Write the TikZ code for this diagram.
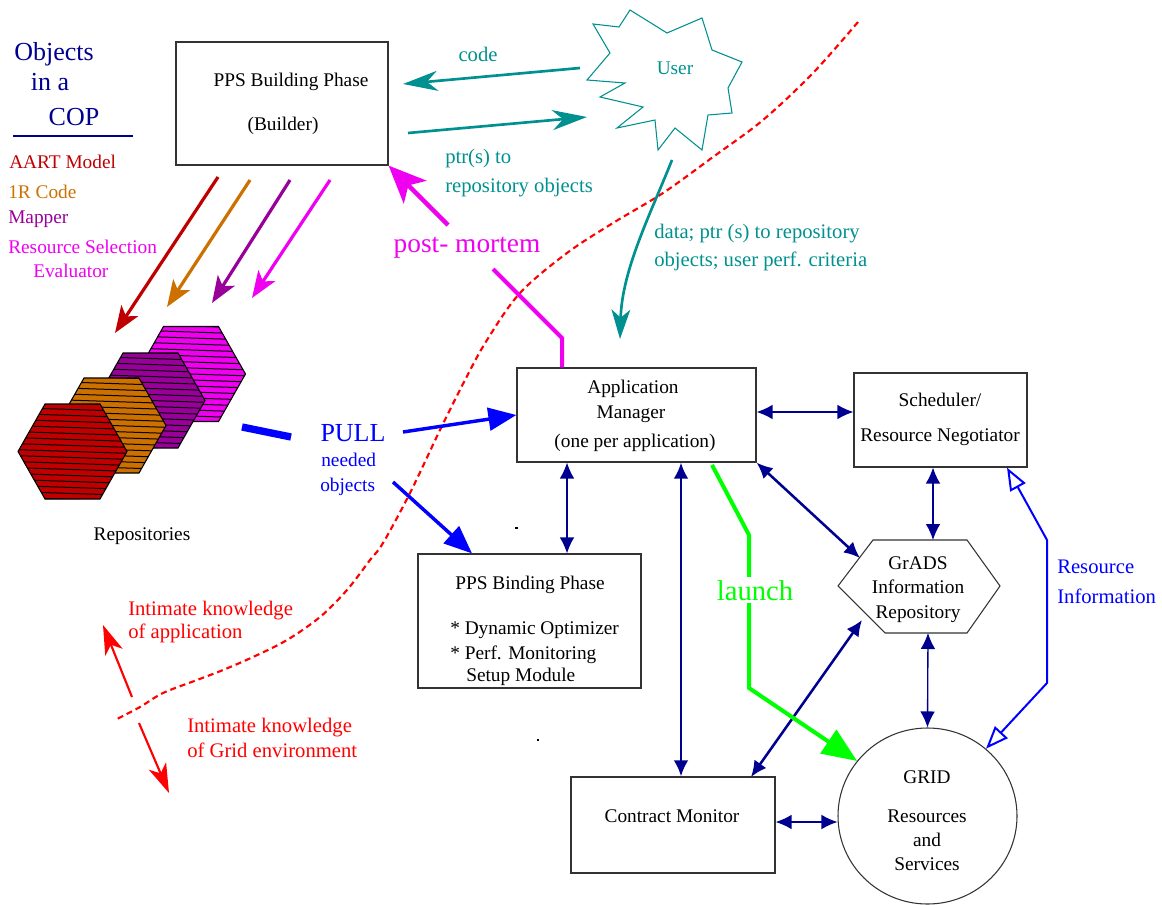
\documentclass[tikz,border=0pt]{standalone}
\usepackage{fontspec}
\setmainfont{Liberation Serif}
\usetikzlibrary{arrows.meta,shapes.geometric,fit}
\definecolor{navy}{HTML}{000090}
\definecolor{tealc}{HTML}{009090}
\definecolor{dred}{HTML}{C00000}
\definecolor{orng}{HTML}{CC7000}
\definecolor{purp}{HTML}{990099}
\definecolor{mag}{HTML}{F000F0}
\definecolor{blu}{HTML}{0000FF}
\definecolor{grn}{HTML}{00FF00}
\definecolor{rd}{HTML}{FF0000}
\newcommand\myfs[1]{\fontsize{#1}{#1}\selectfont}
\newcommand\repohex[3]{%
 \begin{scope}
  \clip ({#1-54.5},#2) -- ({#1-27.5},{#2-47.5}) -- ({#1+27.5},{#2-47.5}) -- ({#1+54.5},#2) -- ({#1+27.5},{#2+47.5}) -- ({#1-27.5},{#2+47.5}) -- cycle;
  \fill[#3] ({#1-60},{#2-50}) rectangle ({#1+60},{#2+50});
  \foreach \k in {-9,...,9} \draw[black,line width=0.75pt] ({#1-60},{#2+\k*6-2}) -- ({#1+60},{#2+\k*6+2});
 \end{scope}
 \draw[black,line width=0.8pt] ({#1-54.5},#2) -- ({#1-27.5},{#2-47.5}) -- ({#1+27.5},{#2-47.5}) -- ({#1+54.5},#2) -- ({#1+27.5},{#2+47.5}) -- ({#1-27.5},{#2+47.5}) -- cycle;
}
\begin{document}
\begin{tikzpicture}[x=0.75pt,y=-0.75pt,
  box/.style={draw=black!80,line width=0.9pt,inner sep=0pt},
  lbl/.style={inner sep=0pt,anchor=base},
  lbll/.style={inner sep=0pt,anchor=base west},
  boxtxt/.style={lbl,font=\myfs{14.5}},
  navyarr/.style={draw=navy,line width=1pt,{Latex[length=12pt,width=11pt]}-{Latex[length=12pt,width=11pt]}},
  navythick/.style={navyarr,line width=1.9pt},
  tealarr/.style={draw=tealc,line width=2pt,-{Stealth[length=26pt,width=15pt,inset=8pt]}},
  colarr/.style={draw=#1,line width=2.4pt,-{Stealth[length=20pt,width=15pt,inset=5pt]}},
  bluearr/.style={draw=blu,line width=2.6pt,-{Triangle[length=21pt,width=17pt]}},
  redarr/.style={draw=rd,line width=1.6pt,-{Stealth[length=22pt,width=14pt,inset=6pt]}},
]
\useasboundingbox (0,0) rectangle (1162,905);

% ---------- left legend ----------
\node[lbl,font=\myfs{19.5},text=navy] (tobj) at (54,61) {Objects};
\node[lbl,font=\myfs{19.5},text=navy] (tina) at (50,91) {in a};
\node[lbl,font=\myfs{19.5},text=navy] (tcop) at (74,126) {COP};
\draw[navy,line width=1.1pt] (13,136) -- (133,136);
\node[lbll,font=\myfs{14.5},text=dred] (taart) at (9,169) {AART Model};
\node[lbll,font=\myfs{14.5},text=orng] (tir) at (8,199) {1R Code};
\node[lbll,font=\myfs{14.5},text=purp] (tmap) at (8,224) {Mapper};
\node[lbll,font=\myfs{14.5},text=mag] (trs) at (8,254) {Resource Selection};
\node[lbll,font=\myfs{14.5},text=mag] (tev) at (33,278) {Evaluator};

% ---------- red dashed boundary ----------
\draw[rd,line width=1.6pt,dash pattern=on 4.5pt off 3pt] plot[smooth,tension=0.55] coordinates {
 (858,22) (813,73) (763,120) (713,157) (663,193) (613,223) (567,253) (520,293) (487,340)
 (465,380) (440,430) (410,493) (383,543) (370,560) (347,590) (320,617) (287,640) (253,657)
 (223,670) (197,680) (163,693) (140,707) (117,719)};

% ---------- boxes ----------
\node[box,fit={(176,42)(388,165)}] (builder) {};
\node[boxtxt] (tb1) at (291,87) {PPS Building Phase};
\node[boxtxt] (tb2) at (283,131) {(Builder)};

\node[box,fit={(517,368)(756,462)}] (am) {};
\node[boxtxt] (ta1) at (633,393) {Application};
\node[boxtxt] (ta2) at (631,418) {Manager};
\node[boxtxt] (ta3) at (635,447) {(one per application)};

\node[box,fit={(854,373)(1027,467)}] (sched) {};
\node[boxtxt] (ts1) at (940,406) {Scheduler/};
\node[boxtxt] (ts2) at (940,441) {Resource Negotiator};

\node[box,fit={(418,554)(641,688)}] (bind) {};
\node[boxtxt] (tbd1) at (530,589) {PPS Binding Phase};
\node[lbll,font=\myfs{14.5}] (tbd2) at (450,634) {* Dynamic Optimizer};
\node[lbll,font=\myfs{14.5}] (tbd3) at (450,659) {* Perf. Monitoring};
\node[lbll,font=\myfs{14.5}] (tbd4) at (466,681) {Setup Module};

\node[box,fit={(571,777)(775,873)}] (contract) {};
\node[boxtxt] (tc) at (672,822) {Contract Monitor};

% GrADS hexagon
\draw[black!80,line width=0.8pt] (873,540) -- (967,540) -- (1000,586) -- (967,633) -- (885,633) -- (838,586) -- cycle;
\node[inner sep=0pt,fit={(838,540)(1000,633)}] (grads) {};
\node[boxtxt] (tg1) at (918,569) {GrADS};
\node[boxtxt] (tg2) at (918,593) {Information};
\node[boxtxt] (tg3) at (918,618) {Repository};

% GRID ellipse
\node[draw=black!80,line width=0.8pt,ellipse,inner sep=0pt,minimum width=134.25pt,minimum height=132pt] (grid) at (927.5,816) {};
\node[boxtxt] (tgr1) at (927,783) {GRID};
\node[boxtxt] (tgr2) at (927,822) {Resources};
\node[boxtxt] (tgr3) at (927,846) {and};
\node[boxtxt] (tgr4) at (927,870) {Services};

% User star
\draw[tealc,line width=0.8pt] (593,24) -- (619,27) -- (630,10) -- (667,33) -- (702,18) -- (712,50) -- (742,62) -- (728,88) -- (732,113) -- (708,115) -- (702,150) -- (675,128) -- (658,150) -- (655,120) -- (617,128) -- (643,107) -- (600,97) -- (625,83) -- (587,80) -- (610,53) -- cycle;
\node[lbl,font=\myfs{14.5},text=tealc] (user) at (675,75) {User};

% ---------- repositories ----------
\repohex{191}{374}{mag}
\repohex{150.5}{400.5}{purp}
\repohex{111.5}{425.5}{orng}
\repohex{72.5}{451.5}{dred}
\node[boxtxt] (trepo) at (142,540) {Repositories};

% ---------- teal arrows ----------
\coordinate (ucode) at (580,68);
\coordinate (bcode) at (403,84);
\coordinate (bptr) at (408,133);
\coordinate (uptr) at (587,117);
\coordinate (udata) at (672,160);
\coordinate (adata) at (620,339);
\draw[tealarr] (ucode) -- (bcode);
\draw[tealarr] (bptr) -- (uptr);
\draw[draw=tealc,line width=2pt,-{Stealth[length=22pt,width=14pt,inset=6pt]}] (udata) .. controls (650,215) and (622,270) .. (adata);
\node[lbl,font=\myfs{15.5},text=tealc] (tcode) at (478,62) {code};
\node[lbll,font=\myfs{15.5},text=tealc] (tptr1) at (445,164) {ptr(s) to};
\node[lbll,font=\myfs{15.5},text=tealc] (tptr2) at (445,193) {repository objects};
\node[lbll,font=\myfs{15.5},text=tealc] (tdat1) at (654,239) {data; ptr (s) to repository};
\node[lbll,font=\myfs{15.5},text=tealc] (tdat2) at (654,267) {objects; user perf. criteria};

% ---------- post-mortem ----------
\coordinate (pm1) at (562,338);
\coordinate (pm2) at (493,269);
\coordinate (pm3) at (448,225);
\draw[mag,line width=3pt] (562,0 |- am.north) -- (pm1) -- (pm2);
\draw[draw=mag,line width=3.2pt,-{Stealth[length=28pt,width=24pt,inset=7pt]}] (pm3) -- (builder.south east);
\node[lbl,font=\myfs{20.5},text=mag] (tpm) at (467,253) {post- mortem};

% ---------- builder to repositories ----------
\coordinate (c1s) at (218,177); \coordinate (c1e) at (115,333);
\coordinate (c2s) at (250,180); \coordinate (c2e) at (167,307);
\coordinate (c3s) at (290,180); \coordinate (c3e) at (212,303);
\coordinate (c4s) at (330,180); \coordinate (c4e) at (252,298);
\draw[colarr=dred] (c1s) -- (c1e);
\draw[colarr=orng] (c2s) -- (c2e);
\draw[colarr=purp] (c3s) -- (c3e);
\draw[colarr=mag] (c4s) -- (c4e);

% ---------- PULL ----------
\coordinate (st1) at (242,427); \coordinate (st2) at (291,437);
\draw[blu,line width=5.5pt] (st1) -- (st2);
\node[lbl,font=\myfs{19.5},text=blu] (tpull) at (353,441) {PULL};
\node[lbll,font=\myfs{14.5},text=blu] (tneed) at (321,466) {needed};
\node[lbll,font=\myfs{14.5},text=blu] (tobjs) at (320,491) {objects};
\coordinate (pa) at (403,432);
\coordinate (pb) at (393,482);
\draw[bluearr] (pa) -- (am.west);
\draw[bluearr] (pb) -- (472,0 |- bind.north);

% ---------- navy connectors ----------
\draw[navyarr] (am.east |- 0,412) -- (sched.west |- 0,412);
\draw[navyarr] (567,0 |- am.south) -- (567,0 |- bind.north);
\draw[navythick] (681,0 |- am.south) -- (681,0 |- contract.north);
\coordinate (gA) at (860,558);
\coordinate (gB) at (862,620);
\coordinate (cB) at (751,777);
\draw[navythick] (am.south east) -- (gA);
\draw[navythick] (cB) -- (gB);
\draw[navyarr] (933,0 |- sched.south) -- (933,540);
\draw[navyarr] (928,633) -- (grid.north);
\draw[navyarr] (contract.east |- 0,822) -- (grid.west |- 0,822);

% ---------- launch ----------
\coordinate (l0) at (712,465);
\coordinate (l1) at (749,535);
\coordinate (l2) at (749,688);
\draw[draw=grn,line width=3pt,-{Triangle[length=26pt,width=21pt]}] (l0) -- (l1) -- (l2) -- (grid.142);
\node[lbl,font=\myfs{21.5},text=grn,fill=white,inner sep=2pt] (tlaunch) at (755,600) {launch};

% ---------- resource information ----------
\coordinate (r1) at (1047,540);
\coordinate (r2) at (1047,683);
\draw[draw=blu,line width=1.5pt,{Triangle[open,length=17pt,width=13pt]}-{Triangle[open,length=17pt,width=13pt]}] (1007,0 |- sched.south) -- (r1) -- (r2) -- (grid.49);
\node[lbll,font=\myfs{15.5},text=blu] (tri1) at (1057,573) {Resource};
\node[lbll,font=\myfs{15.5},text=blu] (tri2) at (1057,603) {Information};

% ---------- intimate knowledge ----------
\coordinate (k1) at (132,697); \coordinate (k1e) at (103,625);
\coordinate (k2) at (139,723); \coordinate (k2e) at (169,793);
\draw[redarr] (k1) -- (k1e);
\draw[redarr] (k2) -- (k2e);
\node[lbll,font=\myfs{15.5},text=rd] (tik1) at (128,615) {Intimate knowledge};
\node[lbll,font=\myfs{15.5},text=rd] (tik2) at (128,638) {of application};
\node[lbll,font=\myfs{15.5},text=rd] (tik3) at (187,732) {Intimate knowledge};
\node[lbll,font=\myfs{15.5},text=rd] (tik4) at (187,757) {of Grid environment};

% stray marks
\fill[black] (515,527) rectangle (518,529);
\fill[black] (537,739) rectangle (539,741);
\end{tikzpicture}
\end{document}
